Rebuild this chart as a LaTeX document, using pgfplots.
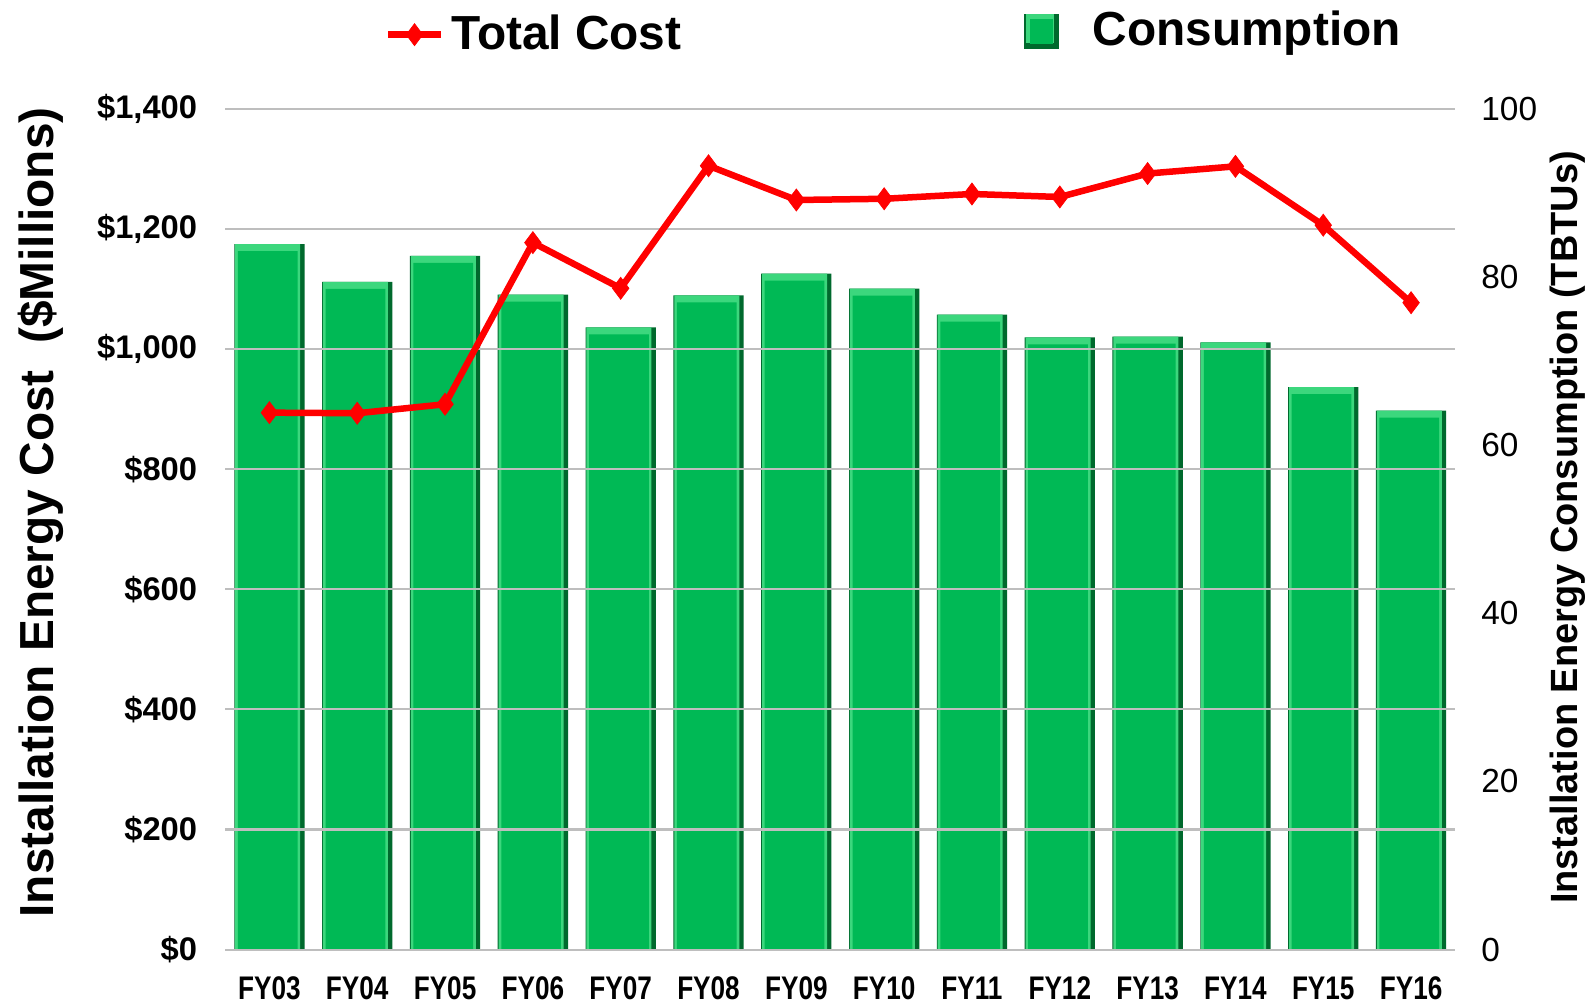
\documentclass[border=0pt]{standalone}
\usepackage{pgfplots}
\pgfplotsset{compat=1.18}
\usepackage{pgfplotstable}
\usepackage{fontspec}
\setmainfont{Liberation Sans}
\newfontfamily\narrowfont[FakeStretch=0.8]{Liberation Sans}
\definecolor{bargreen}{RGB}{0,185,85}
\definecolor{barlight}{RGB}{60,215,125}
\definecolor{bardark}{RGB}{0,105,45}
\definecolor{gridgray}{RGB}{190,190,190}

\pgfplotstableread{
x cost cons
0 894 83.9
1 893 79.4
2 908 82.5
3 1177 77.9
4 1101 74.0
5 1305 77.8
6 1248 80.4
7 1250 78.6
8 1258 75.5
9 1253 72.8
10 1292 72.9
11 1304 72.2
12 1206 66.9
13 1077 64.1
}\datatable

\begin{document}
\begin{tikzpicture}
\useasboundingbox (-22.55mm,-5.7mm) rectangle (136.75mm,94.97mm);
% right axis: consumption bars
\begin{axis}[
  scale only axis, width=122.95mm, height=84.1mm,
  xmin=-0.5, xmax=13.5, ymin=0, ymax=100,
  axis y line*=right, axis x line*=bottom,
  axis line style={-},
  y axis line style={draw=none},
  x axis line style={draw=gridgray, line width=0.5pt},
  major tick length=0pt,
  ytick={0,20,...,100},
  yticklabels={0,20,40,60,80,100},
  yticklabel style={font=\fontsize{9.5}{11}\selectfont, xshift=1.4mm},
  xtick={0,...,13},
  xticklabels={FY03,FY04,FY05,FY06,FY07,FY08,FY09,FY10,FY11,FY12,FY13,FY14,FY15,FY16},
  xticklabel style={font=\fontsize{9.3}{11}\narrowfont\bfseries, yshift=-1.5mm},
  ylabel={Installation Energy Consumption (TBTUs)},
  ylabel style={at={(rel axis cs:1.092,0.502)}, anchor=center, rotate=0, font=\fontsize{10.8}{12}\bfseries},
  ybar, bar shift=0pt,
  legend style={at={(rel axis cs:0.649,1.092)}, anchor=west, draw=none, fill=none,
    inner sep=0pt, font=\fontsize{13.6}{16}\bfseries},
  legend image code/.code={%
    \fill[bardark] (0mm,-1.75mm) rectangle (3.5mm,1.75mm);
    \fill[barlight] (0.2mm,-1.2mm) rectangle (3.0mm,1.7mm);
    \fill[bargreen] (0.6mm,-1.3mm) rectangle (2.9mm,1.2mm);
  },
]
\addplot[fill=bardark, draw=none, bar width=0.8] table[x=x, y=cons] {\datatable};
\addlegendentry{\ \ Consumption}
\addplot[fill=barlight, draw=none, bar width=0.74, bar shift=-0.02, forget plot] table[x=x, y=cons] {\datatable};
\addplot[fill=bargreen, draw=none, bar width=0.68, bar shift=-0.02, yshift=-0.7mm, forget plot] table[x=x, y=cons] {\datatable};
\end{axis}
% left axis: total cost line
\begin{axis}[
  scale only axis, width=122.95mm, height=84.1mm,
  xmin=-0.5, xmax=13.5, ymin=0, ymax=1400,
  axis y line*=left, hide x axis,
  y axis line style={draw=none},
  major tick length=0pt,
  ymajorgrids, grid style={draw=gridgray, line width=0.6pt},
  ytick={0,200,...,1400},
  yticklabels={\$0,\$200,\$400,\$600,\$800,{\$1,000},{\$1,200},{\$1,400}},
  yticklabel style={font=\fontsize{9.3}{11}\bfseries, xshift=-1.6mm},
  ylabel={Installation Energy Cost\ \ (\$Millions)},
  ylabel style={at={(rel axis cs:-0.150,0.52)}, anchor=center, font=\fontsize{13.6}{15}\bfseries},
  legend style={at={(rel axis cs:0.129,1.088)}, anchor=west, draw=none, fill=none,
    inner sep=0pt, font=\fontsize{13.6}{16}\bfseries},
  legend image code/.code={%
    \draw[mark repeat=2,mark phase=2] plot coordinates {(0mm,0mm)(2.65mm,0mm)(5.3mm,0mm)};
  },
]
\addplot[red, line width=0.65mm, mark=diamond*, mark size=1.1mm, mark options={solid, line width=0.2pt}] table[x=x, y=cost] {\datatable};
\addlegendentry{Total Cost}
\end{axis}
\end{tikzpicture}
\end{document}
